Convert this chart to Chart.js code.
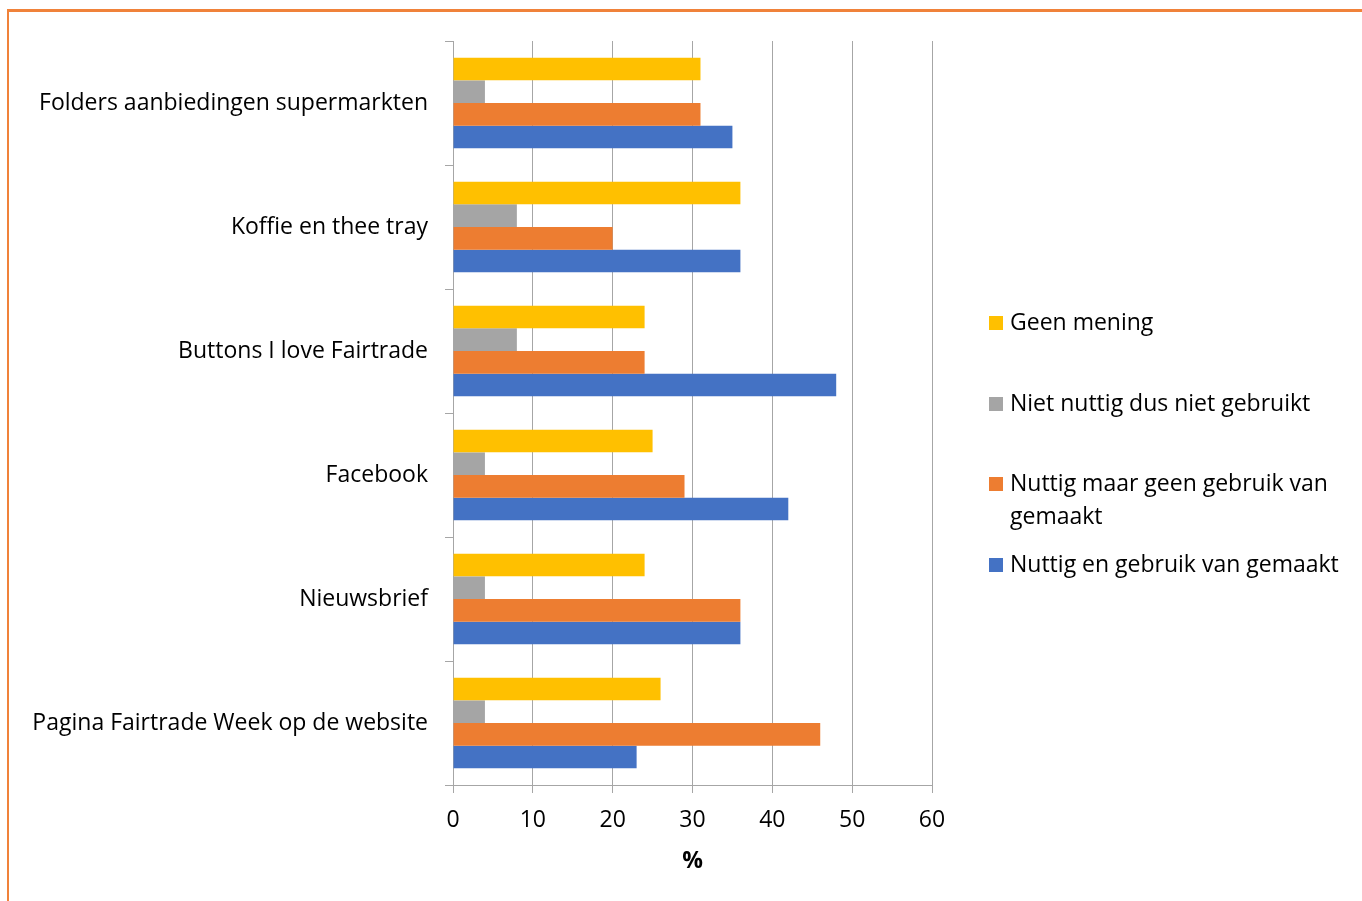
<!DOCTYPE html>
<html>
<head>
<meta charset="utf-8">
<script src="https://cdn.jsdelivr.net/npm/chart.js@4.4.1/dist/chart.umd.min.js"></script>
<style>
html, body { margin: 0; padding: 0; background: #fff; overflow: hidden; }
#frame { position: absolute; left: 7px; top: 9px; width: 1500px; height: 1000px;
         border-left: 2px solid #f0823a; border-top: 3px solid #f0823a; }
#wrap { position: absolute; left: 0; top: 0; width: 1362px; height: 901px; }
</style>
</head>
<body>
<div id="frame"></div>
<div id="wrap"><canvas id="myChart"></canvas></div>
<script>
// categories, top to bottom
var categories = [
    "Folders aanbiedingen supermarkten",
    "Koffie en thee tray",
    "Buttons I love Fairtrade",
    "Facebook",
    "Nieuwsbrief",
    "Pagina Fairtrade Week op de website"
];

var seriesNames = [
    "Geen mening",
    "Niet nuttig dus niet gebruikt",
    "Nuttig maar geen gebruik van gemaakt",
    "Nuttig en gebruik van gemaakt"
];

// values in %
var geenMening = [31, 36, 24, 25, 24, 26];
var nietNuttig = [4, 8, 8, 4, 4, 4];
var nuttigGeenGebruik = [31, 20, 24, 29, 36, 46];
var nuttigGebruik = [35, 36, 48, 42, 36, 23];

var xTicks = [0, 10, 20, 30, 40, 50, 60];

var seriesColors = ["#ffc000", "#a5a5a5", "#ed7d31", "#4472c4"];
var fontName = "Open Sans";
var fontSize = 23;

function wrapText(ctx, text, maxWidth) {
    var words = text.split(" ");
    var lines = [];
    var line = "";
    words.forEach(function (w) {
        var test = line ? line + " " + w : w;
        if (ctx.measureText(test).width > maxWidth && line) {
            lines.push(line);
            line = w;
        } else {
            line = test;
        }
    });
    if (line) lines.push(line);
    return lines;
}

// legend on the right, excel style
var sideLegend = {
    id: "sideLegend",
    afterDraw: function (chart) {
        var ctx = chart.ctx;
        var rows = [323, 404, 484, 565];
        ctx.save();
        ctx.font = fontSize + "px " + fontName;
        ctx.textBaseline = "middle";
        ctx.textAlign = "left";
        chart.data.datasets.forEach(function (ds, i) {
            var y = rows[i];
            ctx.fillStyle = ds.backgroundColor;
            ctx.fillRect(989, y - 7, 14, 14);
            ctx.fillStyle = "#000";
            wrapText(ctx, ds.label, 345).forEach(function (line, j) {
                ctx.fillText(line, 1010, y + j * 33);
            });
        });
        ctx.restore();
    }
};

var seriesData = [geenMening, nietNuttig, nuttigGeenGebruik, nuttigGebruik];

const config = {
    type: "bar",
    data: {
        labels: categories,
        datasets: seriesData.map(function (vals, i) {
            return {
                label: seriesNames[i],
                data: vals,
                backgroundColor: seriesColors[i],
                borderWidth: 0,
                categoryPercentage: 0.73,
                barPercentage: 1
            };
        })
    },
    options: {
        indexAxis: "y",
        responsive: true,
        maintainAspectRatio: false,
        animation: false,
        layout: { padding: { top: 41, right: 430, left: 0, bottom: 0 } },
        plugins: {
            legend: { display: false },
            tooltip: { enabled: false }
        },
        scales: {
            x: {
                min: 0,
                max: 60,
                afterBuildTicks: function (s) {
                    s.ticks = xTicks.map(function (v) { return { value: v }; });
                },
                ticks: { color: "#000", font: { family: fontName, size: fontSize }, padding: 14 },
                grid: { color: "#a6a6a6", tickLength: 8, lineWidth: 1 },
                border: { color: "#a6a6a6" },
                title: {
                    display: true,
                    text: "%",
                    color: "#000",
                    font: { family: fontName, size: fontSize, weight: "bold" },
                    padding: { top: 0, bottom: 26 }
                },
                afterFit: function (s) { s.height = 116; }
            },
            y: {
                ticks: { color: "#000", font: { family: fontName, size: fontSize }, padding: 17 },
                grid: { drawOnChartArea: false, tickLength: 8, color: "#a6a6a6", offset: true },
                border: { color: "#a6a6a6" },
                afterFit: function (s) { s.width = 453; }
            }
        }
    },
    plugins: [sideLegend]
};

const myChart = new Chart(document.getElementById("myChart"), config);
</script>
</body>
</html>
